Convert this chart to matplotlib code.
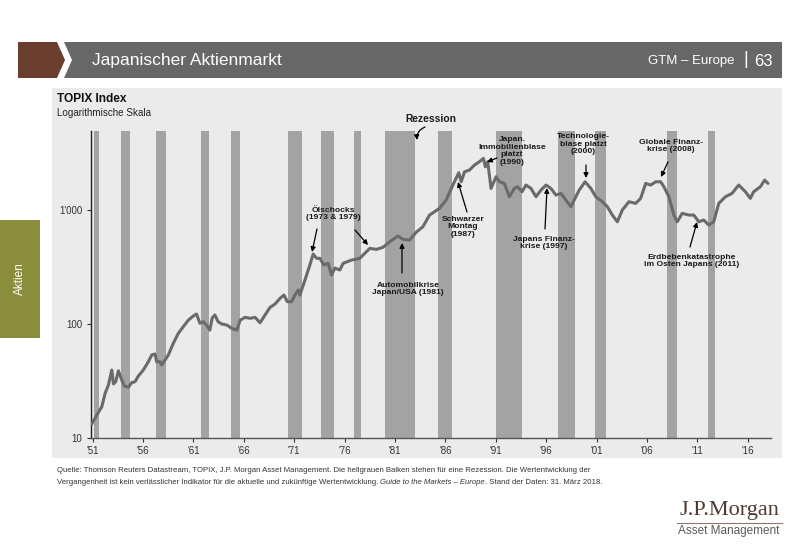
import matplotlib
matplotlib.use('Agg')
import matplotlib.pyplot as plt
from matplotlib import font_manager
from matplotlib.patches import Polygon, Rectangle
import matplotlib.ticker as mticker


def avail(name):
    try:
        font_manager.findfont(font_manager.FontProperties(family=name), fallback_to_default=False)
        return True
    except Exception:
        return False


SANS = 'Liberation Sans' if avail('Liberation Sans') else 'DejaVu Sans'
SERIF = 'Liberation Serif' if avail('Liberation Serif') else 'DejaVu Serif'
plt.rcParams['font.family'] = [SANS, 'DejaVu Sans']

# ---------------- data ----------------
years = [1950.93, 1951.43, 1951.92, 1952.26, 1952.58, 1952.91, 1953.08, 1953.30, 1953.57, 1953.90,
         1954.17, 1954.56, 1954.89, 1955.22, 1955.55, 1956.04, 1956.54, 1956.87, 1957.20, 1957.36,
         1957.70, 1957.85, 1958.19, 1958.52, 1959.01, 1959.51, 1960.00, 1960.50, 1960.99, 1961.32,
         1961.65, 1961.98, 1962.31, 1962.64, 1962.87, 1963.14, 1963.46, 1963.83, 1964.32, 1964.82,
         1965.31, 1965.64, 1966.13, 1966.63, 1967.12, 1967.62, 1968.11, 1968.61, 1969.10, 1969.60,
         1969.99, 1970.32, 1970.75, 1971.08, 1971.41, 1971.57, 1972.07, 1972.56, 1972.89, 1973.23,
         1973.55, 1973.95, 1974.37, 1974.71, 1975.04, 1975.53, 1975.86, 1976.69, 1977.51, 1977.84,
         1978.50, 1979.16, 1979.81, 1980.48, 1981.30, 1981.79, 1982.45, 1983.12, 1983.77, 1984.43,
         1985.42, 1986.08, 1986.74, 1987.33, 1987.57, 1987.90, 1988.39, 1988.88, 1989.38, 1989.77,
         1989.97, 1990.20, 1990.53, 1991.03, 1991.36, 1991.85, 1992.35, 1992.84, 1993.17, 1993.60,
         1994.00, 1994.49, 1994.99, 1995.48, 1995.98, 1996.47, 1996.96, 1997.46, 1997.95, 1998.45,
         1998.78, 1999.27, 1999.86, 2000.43, 2000.92, 2001.58, 2002.07, 2002.56, 2003.06, 2003.55,
         2004.21, 2004.88, 2005.37, 2005.87, 2006.36, 2006.86, 2007.35, 2007.68, 2008.17, 2008.67,
         2009.00, 2009.49, 2010.15, 2010.64, 2011.14, 2011.63, 2012.13, 2012.62, 2013.12, 2013.78,
         2014.43, 2015.10, 2015.76, 2016.25, 2016.58, 2017.24, 2017.67, 2018.00]
topix = [13.3, 15.9, 18.8, 24.8, 29.2, 39.5, 29.8, 31.2, 38.9, 32.3,
         28.6, 27.9, 30.6, 31.2, 35.0, 39.5, 46.7, 53.5, 54.6, 46.7,
         46.7, 43.7, 48.3, 53.5, 67.7, 82.8, 94.7, 108, 117.5, 122.4,
         101.5, 104.7, 98, 88.5, 113, 120, 104.7, 100, 98, 91.6,
         88.5, 108, 114.5, 112.2, 114.5, 102.6, 120, 140, 149.6, 168,
         179.5, 157, 157, 179.5, 198.6, 179.5, 243, 330, 411, 377,
         377, 330, 341, 269, 310, 298, 341, 364, 377, 403,
         461, 452, 471, 527, 592, 553, 546, 640, 714, 904,
         1035, 1225, 1657, 2125, 1771, 2167, 2243, 2481, 2655, 2840,
         2399, 2655, 1549, 1960, 1771, 1714, 1309, 1549, 1600, 1448,
         1657, 1549, 1309, 1496, 1657, 1549, 1355, 1400, 1225, 1070,
         1225, 1496, 1771, 1549, 1309, 1183, 1070, 904, 789, 1000,
         1183, 1145, 1267, 1714, 1657, 1771, 1771, 1600, 1309, 904,
         789, 936, 904, 904, 789, 817, 738, 789, 1145, 1309,
         1400, 1657, 1448, 1267, 1448, 1600, 1832, 1714]

recession_start = [1951.15, 1953.86, 1957.3, 1961.8, 1964.7, 1970.4, 1973.7, 1976.9, 1980.0,
                   1985.3, 1991.0, 1997.2, 2000.8, 2007.95, 2012.1]
recession_end = [1951.6, 1954.7, 1958.3, 1962.6, 1965.6, 1971.8, 1975.0, 1977.6, 1983.0,
                 1986.7, 1993.6, 1998.9, 2001.9, 2009.0, 2012.7]

xtick_years = list(range(1951, 2017, 5))
xtick_labels = ["'%02d" % (y % 100) for y in xtick_years]
ytick_values = [10, 100, 1000]
ytick_labels = ['10', '100', "1'000"]

# ---------------- figure ----------------
fig = plt.figure(figsize=(8, 5.54), dpi=100)
fig.patch.set_facecolor('white')

deco = fig.add_axes([0, 0, 1, 1])
deco.set_xlim(0, 800)
deco.set_ylim(554, 0)
deco.axis('off')

# chart panel
deco.add_patch(Rectangle((52, 88), 730, 370, color='#ebebeb', lw=0))
# header
deco.add_patch(Polygon([(18, 42), (57, 42), (65, 60), (57, 78), (18, 78)], closed=True,
                       color='#6a3f2d', lw=0))
deco.add_patch(Polygon([(64, 42), (782, 42), (782, 78), (64, 78), (72, 60)], closed=True,
                       color='#676767', lw=0))
deco.text(92, 61, 'Japanischer Aktienmarkt', color='white', fontsize=12.5, va='center', ha='left')
deco.text(735, 61, 'GTM – Europe', color='white', fontsize=9.5, va='center', ha='right')
deco.text(746, 60, '|', color='white', fontsize=13, va='center', ha='center')
deco.text(754, 61, '63', color='white', fontsize=12, va='center', ha='left')
# side tab
deco.add_patch(Rectangle((0, 220), 40, 118, color='#8a8d3b', lw=0))
deco.text(20, 279, 'Aktien', color='white', fontsize=8.5, rotation=90, va='center', ha='center')

# chart titles
deco.text(57, 99, 'TOPIX Index', fontsize=8.6, fontweight='bold', va='center', ha='left', color='#111')
deco.text(57, 113, 'Logarithmische Skala', fontsize=7.1, va='center', ha='left', color='#222')

# ---------------- chart axes ----------------
ax = fig.add_axes([90.5 / 800, 1 - 438 / 554, (771 - 90.5) / 800, (438 - 130.7) / 554])
ax.set_facecolor('none')
ax.set_yscale('log')
ax.set_ylim(10, 4970)
ax.set_xlim(1950.8, 2018.3)

for s, e in zip(recession_start, recession_end):
    ax.axvspan(s, e, color='#a3a3a3', lw=0, zorder=1)

ax.plot(years, topix, color='#6a6a6a', lw=2.2, solid_joinstyle='round', solid_capstyle='round', zorder=3)

for side in ['top', 'right']:
    ax.spines[side].set_visible(False)
ax.spines['left'].set_color('#222222')
ax.spines['left'].set_linewidth(1.0)
ax.spines['bottom'].set_color('#555555')
ax.spines['bottom'].set_linewidth(1.0)

ax.set_yticks(ytick_values)
ax.set_yticklabels(ytick_labels)
ax.yaxis.set_minor_locator(mticker.NullLocator())
ax.set_xticks(xtick_years)
ax.set_xticklabels(xtick_labels)
ax.tick_params(axis='both', length=3, width=0.8, colors='#333333', labelsize=7, pad=3)

# ---------------- annotations ----------------
tf = deco.transData
ann_style = dict(transform=tf, ha='center', va='center', fontsize=6.1, fontweight='bold',
                 color='#1a1a1a', linespacing=1.18, zorder=5)
ax.text(431, 119, 'Rezession', **dict(ann_style, fontsize=7.4))
ax.text(333, 214, 'Ölschocks\n(1973 & 1979)', **ann_style)
ax.text(408, 289, 'Automobilkrise\nJapan/USA (1981)', **ann_style)
ax.text(463, 227, 'Schwarzer\nMontag\n(1987)', **ann_style)
ax.text(512, 151, 'Japan.\nImmobilienblase\nplatzt\n(1990)', **ann_style)
ax.text(544, 243, 'Japans Finanz-\nkrise (1997)', **ann_style)
ax.text(583, 144, 'Technologie-\nblase platzt\n(2000)', **ann_style)
ax.text(671, 146, 'Globale Finanz-\nkrise (2008)', **ann_style)
ax.text(692, 261, 'Erdbebenkatastrophe\nim Osten Japans (2011)', **ann_style)

arrows = [((425, 127), (417, 140), 0.35),
          ((317, 229), (312, 252), 0.0),
          ((355, 230), (368, 245), 0.0),
          ((402, 273), (402, 243), 0.0),
          ((467, 212), (458, 182), 0.0),
          ((497, 158), (487, 162), 0.0),
          ((545, 229), (547, 188), 0.0),
          ((586, 165), (586, 178), 0.0),
          ((668, 162), (661, 177), 0.0),
          ((690, 247), (697, 222), 0.0)]
for tail, head, rad in arrows:
    ax.annotate('', xy=head, xycoords=tf, xytext=tail, textcoords=tf,
                arrowprops=dict(arrowstyle='-|>', color='black', lw=0.9, mutation_scale=7,
                                shrinkA=0, shrinkB=0, connectionstyle='arc3,rad=%s' % rad),
                zorder=6, annotation_clip=False)

# ---------------- source text ----------------
line1 = ('Quelle: Thomson Reuters Datastream, TOPIX, J.P. Morgan Asset Management. Die hellgrauen '
         'Balken stehen für eine Rezession. Die Wertentwicklung der')
line2a = 'Vergangenheit ist kein verlässlicher Indikator für die aktuelle und zukünftige Wertentwicklung. '
line2b = 'Guide to the Markets – Europe'
line2c = '. Stand der Daten: 31. März 2018.'

t1 = deco.text(57, 470, line1, fontsize=6, va='center', ha='left', color='#333333')
fig.canvas.draw()
renderer = fig.canvas.get_renderer()
w = t1.get_window_extent(renderer).width
fs = 6 * 536 / w
t1.set_fontsize(fs)

ta = deco.text(57, 482, line2a, fontsize=fs, va='center', ha='left', color='#333333')
fig.canvas.draw()
xa = deco.transData.inverted().transform((ta.get_window_extent(renderer).x1, 0))[0]
tb = deco.text(xa, 482, line2b, fontsize=fs, va='center', ha='left', color='#333333', style='italic')
fig.canvas.draw()
xb = deco.transData.inverted().transform((tb.get_window_extent(renderer).x1, 0))[0]
deco.text(xb, 482, line2c, fontsize=fs, va='center', ha='left', color='#333333')

# ---------------- logo ----------------
deco.text(729, 511, 'J.P.Morgan', family=SERIF, fontsize=16, color='#4e3b30', va='center', ha='center')
deco.plot([677, 782], [522.5, 522.5], color='#8a7a70', lw=0.8)
deco.text(729, 531, 'Asset Management', fontsize=8.5, color='#5a5a5a', va='center', ha='center')

fig.savefig('out.png', dpi=100, facecolor='white')
